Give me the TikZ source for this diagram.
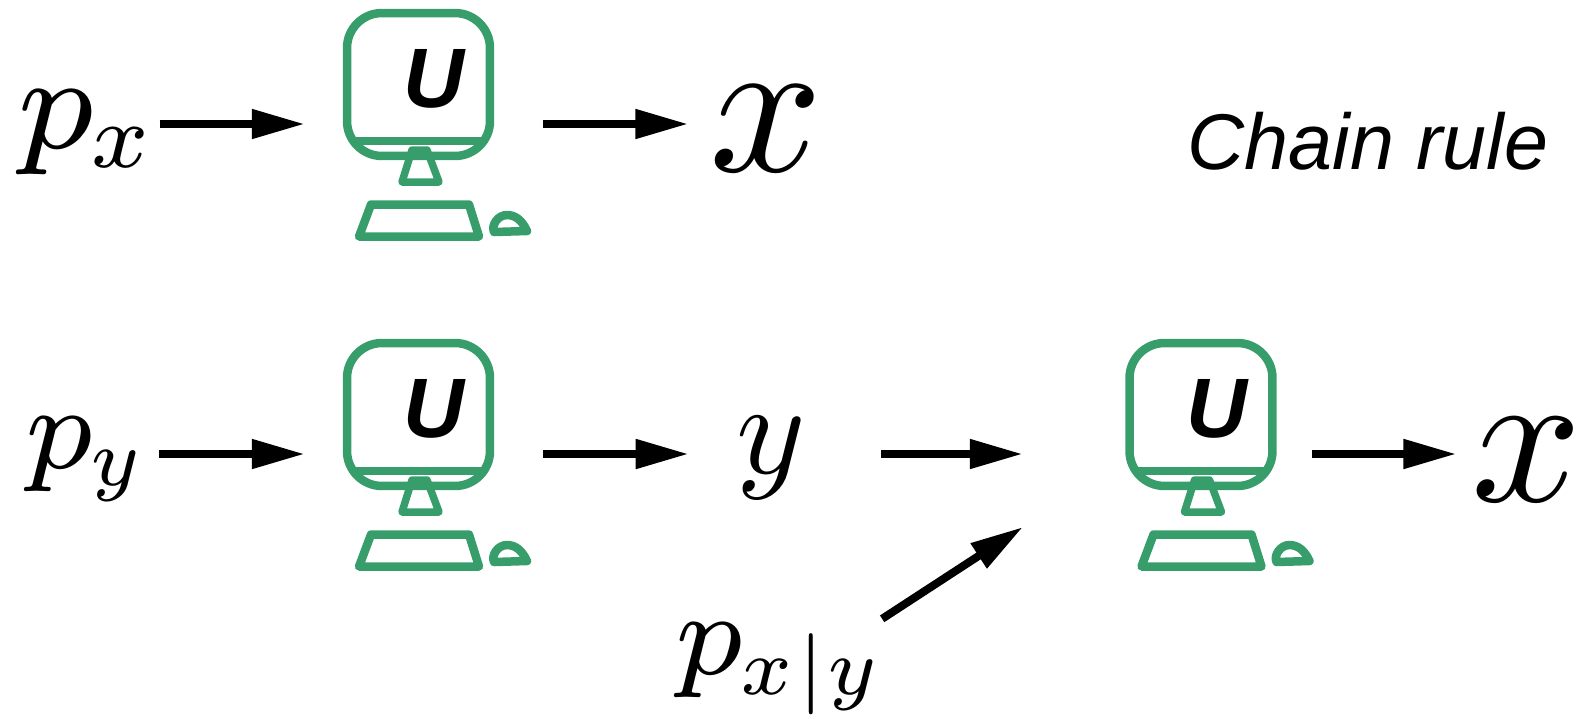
\documentclass[tikz,border=0pt]{standalone}
\usepackage{graphicx}
\usepackage{fontspec}
\setmainfont{Liberation Sans}
\usetikzlibrary{arrows.meta}
\definecolor{compgreen}{HTML}{379E6B}
\scriptspace=0pt
\newcommand{\subsym}[1]{\hbox{\kern-.3pt\scalebox{0.68}{$\scriptstyle #1$}}}
\tikzset{
    flow/.style={line width=0.16cm,-{Triangle[length=1.06cm,width=0.56cm]}},
    symb/.style={inner sep=0pt,scale=#1},
    computer/.pic={
        \node[draw=compgreen,line width=0.17cm,rounded corners=0.7cm,minimum width=2.86cm,minimum height=2.86cm,inner sep=0pt] (-screen) at (0,0) {};
        \draw[compgreen,line width=0.17cm] (-66,56.5) -- (66,56.5);
        \draw[compgreen,line width=0.15cm,line join=round] (-6.5,65.5) -- (8.5,65.5) -- (20.5,97.5) -- (-16.5,97.5) -- cycle;
        \draw[compgreen,line width=0.17cm,line join=round] (-47.5,120) -- (50.5,120) -- (60.5,152) -- (-59.5,152) -- cycle;
        \draw[compgreen,line width=0.17cm,line join=round] (75.5,147.5) -- (108.5,146.5) .. controls (103.5,135.5) and (96.5,130.5) .. (88.5,130.5) .. controls (79.5,130.5) and (72.5,140.5) .. cycle;
        \node[font=\fontsize{48}{58}\selectfont\bfseries\itshape,inner sep=0pt] (-letter) at (15.5,-6) {U};
    }
}
\begin{document}
\begin{tikzpicture}[x=0.02cm,y=-0.02cm]
    \useasboundingbox (0,0) rectangle (1583,718);
    \coordinate (rowa) at (0,124);
    \coordinate (rowb) at (0,454);
    \coordinate (diagtip) at (1023,527);
    % top row
    \pic (compa) at (418.5,84.5) {computer};
    \node[symb=11] (px) at (83.5,132.5) {$\scriptstyle p_{\subsym{x}}$};
    \node[symb=11.3] (xa) at (766,128.5) {$x$};
    \node[font=\fontsize{45}{54}\selectfont\itshape,inner sep=0pt] (title) at (1368,141) {Chain rule};
    \draw[flow,shorten <=0.11cm,shorten >=0.76cm] (px.east |- rowa) -- (compa-screen.west |- rowa);
    \draw[flow,shorten <=0.98cm,shorten >=0.34cm] (compa-screen.east |- rowa) -- (xa.west |- rowa);
    % bottom row
    \pic (compb) at (418.5,414.5) {computer};
    \pic (compc) at (1201,414.5) {computer};
    \node[symb=9.7] (py) at (82.5,459) {$\scriptstyle p_{\subsym{y}}$};
    \node[symb=7.5] (ya) at (771,458) {$y$};
    \node[symb=11] (xb) at (1527,459.5) {$x$};
    \node[symb=9.7] (pxy) at (776,669) {$\scriptstyle p_{\subsym{x\kern.4pt|\kern.2pt y}}$};
    \draw[flow,shorten <=0.32cm,shorten >=0.76cm] (py.east |- rowb) -- (compb-screen.west |- rowb);
    \draw[flow,shorten <=0.98cm,shorten >=0.9cm] (compb-screen.east |- rowb) -- (ya.west |- rowb);
    \draw[flow,shorten <=1.46cm,shorten >=2.05cm] (ya.east |- rowb) -- (compc-screen.west |- rowb);
    \draw[flow,shorten <=0.71cm,shorten >=0.23cm] (compc-screen.east |- rowb) -- (xb.west |- rowb);
    \draw[flow,shorten <=0.04cm] (pxy.north east) -- (diagtip);
\end{tikzpicture}
\end{document}
